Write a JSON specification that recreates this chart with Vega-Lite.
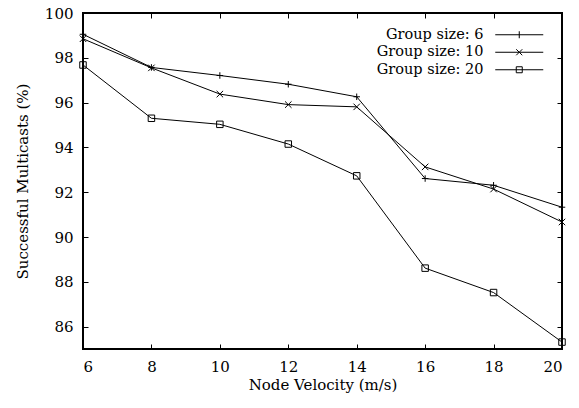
{
  "$schema": "https://vega.github.io/schema/vega-lite/v6.json",
  "width": 479,
  "height": 336,
  "autosize": {"type": "none"},
  "padding": {"left": 83, "top": 13, "right": 17, "bottom": 59},
  "background": "white",
  "config": {
    "view": {"stroke": "black", "strokeWidth": 2},
    "font": "DejaVu Serif",
    "axis": {
      "grid": false,
      "domain": false,
      "tickColor": "black",
      "tickWidth": 1,
      "tickSize": -5,
      "labelColor": "black",
      "titleColor": "black"
    }
  },
  "data": {
    "values": [
      {"v": 6, "group": "Group size: 6", "s": 99.05},
      {"v": 8, "group": "Group size: 6", "s": 97.57},
      {"v": 10, "group": "Group size: 6", "s": 97.21},
      {"v": 12, "group": "Group size: 6", "s": 96.82},
      {"v": 14, "group": "Group size: 6", "s": 96.26},
      {"v": 16, "group": "Group size: 6", "s": 92.61},
      {"v": 18, "group": "Group size: 6", "s": 92.31},
      {"v": 20, "group": "Group size: 6", "s": 91.33},
      {"v": 6, "group": "Group size: 10", "s": 98.85},
      {"v": 8, "group": "Group size: 10", "s": 97.55},
      {"v": 10, "group": "Group size: 10", "s": 96.38},
      {"v": 12, "group": "Group size: 10", "s": 95.91},
      {"v": 14, "group": "Group size: 10", "s": 95.81},
      {"v": 16, "group": "Group size: 10", "s": 93.13},
      {"v": 18, "group": "Group size: 10", "s": 92.14},
      {"v": 20, "group": "Group size: 10", "s": 90.67},
      {"v": 6, "group": "Group size: 20", "s": 97.68},
      {"v": 8, "group": "Group size: 20", "s": 95.30},
      {"v": 10, "group": "Group size: 20", "s": 95.03},
      {"v": 12, "group": "Group size: 20", "s": 94.15},
      {"v": 14, "group": "Group size: 20", "s": 92.73},
      {"v": 16, "group": "Group size: 20", "s": 88.61},
      {"v": 18, "group": "Group size: 20", "s": 87.52},
      {"v": 20, "group": "Group size: 20", "s": 85.31}
    ]
  },
  "layer": [
    {
      "mark": {"type": "line", "color": "black", "strokeWidth": 1},
      "encoding": {
        "x": {
          "field": "v", "type": "quantitative",
          "scale": {"domain": [6, 20], "nice": false, "zero": false},
          "axis": {"orient": "bottom", "values": [6, 8, 10, 12, 14, 16, 18, 20], "title": "Node Velocity (m/s)", "labelPadding": 15, "titlePadding": 3,
            "labelFont": "DejaVu Serif", "labelFontSize": 15, "titleFont": "DejaVu Serif", "titleFontSize": 15, "titleFontWeight": "normal"}
        },
        "y": {
          "field": "s", "type": "quantitative",
          "scale": {"domain": [85, 100], "nice": false, "zero": false},
          "axis": {"orient": "left", "values": [86, 88, 90, 92, 94, 96, 98, 100], "title": "Successful Multicasts (%)", "labelPadding": 15, "titlePadding": 14,
            "labelFont": "DejaVu Serif", "labelFontSize": 15, "titleFont": "DejaVu Serif", "titleFontSize": 15, "titleFontWeight": "normal"}
        },
        "detail": {"field": "group"}
      }
    },
    {
      "mark": {"type": "point", "filled": false, "stroke": "black", "strokeWidth": 1, "size": 42, "opacity": 1},
      "encoding": {
        "x": {
          "field": "v", "type": "quantitative",
          "axis": {"orient": "top", "values": [6, 8, 10, 12, 14, 16, 18, 20], "labels": false, "title": null}
        },
        "y": {
          "field": "s", "type": "quantitative",
          "axis": {"orient": "right", "values": [86, 88, 90, 92, 94, 96, 98, 100], "labels": false, "title": null}
        },
        "shape": {
          "field": "group", "type": "nominal",
          "scale": {
            "domain": ["Group size: 6", "Group size: 10", "Group size: 20"],
            "range": ["M-1,0H1M0,-1V1", "M-1,-1L1,1M-1,1L1,-1", "square"]
          },
          "legend": null
        }
      }
    },
    {
      "mark": {"type": "point", "filled": false, "stroke": "black", "strokeWidth": 1, "size": 1, "opacity": 0},
      "encoding": {
        "x": {"field": "v", "type": "quantitative", "axis": null},
        "y": {"field": "s", "type": "quantitative", "axis": null},
        "shape": {
          "field": "group", "type": "nominal",
          "scale": {
            "domain": ["Group size: 6", "Group size: 10", "Group size: 20"],
            "range": ["M-4.8,0H4.8M0,-0.7V0.7", "M-4.8,0H4.8M-0.6,-0.6L0.6,0.6M-0.6,0.6L0.6,-0.6", "M-4.8,0H4.8M-0.6,-0.6H0.6V0.6H-0.6Z"]
          },
          "legend": {
            "title": null,
            "orient": "none",
            "legendX": 410.5,
            "legendY": 14.5,
            "padding": 0,
            "labelFont": "DejaVu Serif",
            "labelFontSize": 14.5,
            "labelColor": "black",
            "labelAlign": "right",
            "labelOffset": -43,
            "labelLimit": 300,
            "symbolSize": 100,
            "symbolOffset": 18.5,
            "symbolStrokeWidth": 1,
            "symbolStrokeColor": "black",
            "symbolFillColor": "transparent",
            "symbolOpacity": 1,
            "rowPadding": 2.5
          }
        }
      }
    }
  ],
  "resolve": {"axis": {"x": "independent", "y": "independent"}, "scale": {"shape": "independent"}}
}
